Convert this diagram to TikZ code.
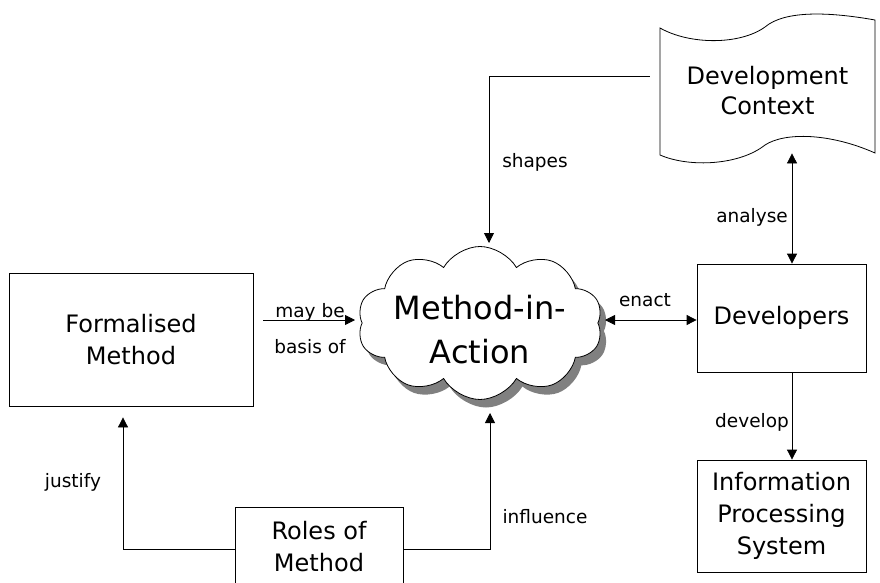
\documentclass[tikz,border=0pt]{standalone}
\usepackage{fontspec}
\setmainfont{DejaVu Sans}
\usetikzlibrary{arrows.meta,shapes.symbols,shadows,calc}

\begin{document}
\begin{tikzpicture}[x=1pt,y=-1pt,
  line width=0.8pt,
  box/.style={draw, align=center, inner sep=0pt,
    font=\fontsize{24}{32}\selectfont},
  lbl/.style={inner sep=0pt, font=\fontsize{18.5}{20}\selectfont},
  arr/.style={-{Triangle[length=10pt,width=10pt]}},
  biarr/.style={{Triangle[length=10pt,width=10pt]}-{Triangle[length=10pt,width=10pt]}},
]
\useasboundingbox (0,0) rectangle (880,583);

% boxes
\node[box, minimum width=244pt, minimum height=133pt] (fm) at (131,339.5)
  {Formalised\\Method};
\node[box, minimum width=169pt, minimum height=108pt] (dev) at (781.5,318)
  {Developers};
\node[box, minimum width=169pt, minimum height=112pt] (ips) at (781.5,516)
  {Information\\Processing\\System};
\node[box, minimum width=168pt, minimum height=80pt] (roles) at (319,547)
  {Roles of\\Method};

% cloud with its grey shadow
\node[cloud, draw, fill=white, cloud puffs=10, cloud puff arc=120, aspect=1.6,
  minimum width=245pt, minimum height=153pt, inner sep=0pt,
  drop shadow={shadow xshift=6pt, shadow yshift=-8pt, fill=black!50, opacity=1}]
  (cloud) at (480,323) {};
\node[align=center, inner sep=0pt, font=\fontsize{32}{44}\selectfont]
  (mia) at (480,330) {Method-in-\\Action};

% wavy sheet for the development context
\draw (660,28) .. controls (690,45) and (740,45) .. (765,27)
  .. controls (785,10) and (830,12) .. (875,20)
  -- (875,153)
  .. controls (830,133) and (785,132) .. (765,145)
  .. controls (740,165) and (690,168) .. (660,155) -- cycle;
\node[align=center, inner sep=0pt, minimum width=215pt, minimum height=125pt,
  font=\fontsize{24}{30}\selectfont] (ctx) at (767.5,90.5)
  {Development\\Context};

% points where the connectors meet the cloud
\coordinate (c-top) at ([xshift=9pt,yshift=80pt]cloud.center);
\coordinate (c-bot) at ([xshift=10pt,yshift=-90pt]cloud.center);
\coordinate (c-left) at ([xshift=-125pt,yshift=3pt]cloud.center);
\coordinate (c-right) at ([xshift=125pt,yshift=3pt]cloud.center);

% connectors
\draw[arr] ([xshift=-10pt,yshift=14.5pt]ctx.west) -| (c-top);
\draw[arr] ([xshift=10pt,yshift=19.5pt]fm.east) -- (c-left);
\draw[biarr] (c-right) -- (c-right -| dev.west);
\draw[biarr] ([xshift=10.5pt]dev.north |- ctx.south) -- ([xshift=10.5pt]dev.north);
\draw[arr] ([xshift=10.5pt]dev.south) -- ([xshift=10.5pt]ips.north);
\draw[arr, shorten >=11pt] ([yshift=-2pt]roles.west) -| ([xshift=-8pt]fm.south);
\draw[arr] ([yshift=-2pt]roles.east) -| (c-bot);

% connector labels
\node[lbl] (l-shapes) at (535,162) {shapes};
\node[lbl] (l-maybe) at (310,312) {may be};
\node[lbl] (l-basis) at (310,347) {basis of};
\node[lbl] (l-enact) at (645,300) {enact};
\node[lbl] (l-analyse) at (752,217) {analyse};
\node[lbl] (l-develop) at (752,422) {develop};
\node[lbl] (l-justify) at (73,482) {justify};
\node[lbl] (l-influence) at (545,517) {influence};
\end{tikzpicture}
\end{document}
